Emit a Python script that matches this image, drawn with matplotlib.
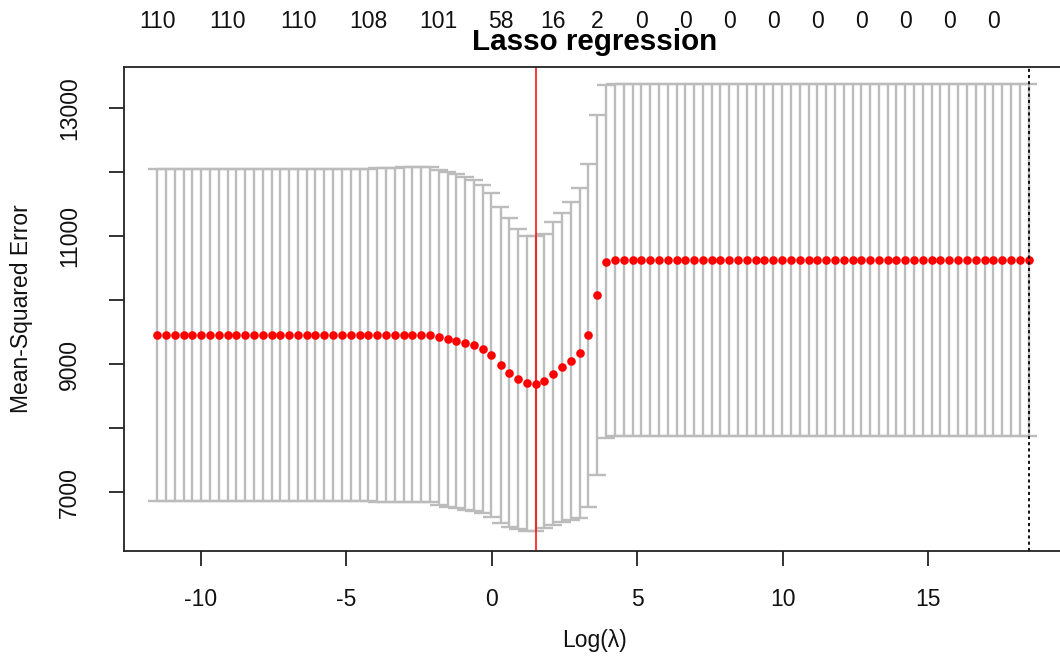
import matplotlib
matplotlib.use("Agg")
import matplotlib.pyplot as plt
import numpy as np

plt.rcParams['font.family'] = ['Liberation Sans', 'DejaVu Sans']

# log(lambda) grid of the cross-validated lasso path (ascending)
log_lambda = [
    -11.50, -11.20, -10.90, -10.59, -10.29, -9.99, -9.69, -9.38, -9.08, -8.78,
    -8.48, -8.17, -7.87, -7.57, -7.27, -6.96, -6.66, -6.36, -6.06, -5.75,
    -5.45, -5.15, -4.85, -4.54, -4.24, -3.94, -3.64, -3.33, -3.03, -2.73,
    -2.43, -2.12, -1.82, -1.52, -1.22, -0.91, -0.61, -0.31, -0.01, 0.30,
    0.60, 0.90, 1.21, 1.51, 1.81, 2.11, 2.42, 2.72, 3.02, 3.32,
    3.63, 3.93, 4.23, 4.53, 4.84, 5.14, 5.44, 5.74, 6.05, 6.35,
    6.65, 6.95, 7.26, 7.56, 7.86, 8.16, 8.47, 8.77, 9.07, 9.37,
    9.68, 9.98, 10.28, 10.58, 10.89, 11.19, 11.49, 11.79, 12.10, 12.40,
    12.70, 13.00, 13.31, 13.61, 13.91, 14.21, 14.52, 14.82, 15.12, 15.42,
    15.73, 16.03, 16.33, 16.63, 16.94, 17.24, 17.54, 17.84, 18.15, 18.45,
]

# mean cross-validated MSE
cvm = [
    9450, 9450, 9450, 9450, 9450, 9450, 9450, 9450, 9450, 9450,
    9450, 9450, 9450, 9450, 9450, 9450, 9450, 9450, 9450, 9450,
    9450, 9450, 9450, 9450, 9450, 9455, 9455, 9455, 9462, 9462,
    9462, 9462, 9418, 9387, 9360, 9324, 9293, 9231, 9142, 8986,
    8866, 8767, 8700, 8695, 8736, 8850, 8950, 9048, 9168, 9449,
    10075, 10600, 10628, 10628, 10628, 10628, 10628, 10628, 10628, 10628,
    10628, 10628, 10628, 10628, 10628, 10628, 10628, 10628, 10628, 10628,
    10628, 10628, 10628, 10628, 10628, 10628, 10628, 10628, 10628, 10628,
    10628, 10628, 10628, 10628, 10628, 10628, 10628, 10628, 10628, 10628,
    10628, 10628, 10628, 10628, 10628, 10628, 10628, 10628, 10628, 10628,
]

# standard error of the cross-validated MSE
cvsd = [
    2593, 2593, 2593, 2593, 2593, 2593, 2593, 2593, 2593, 2593,
    2593, 2593, 2593, 2593, 2593, 2593, 2593, 2593, 2593, 2593,
    2593, 2593, 2593, 2593, 2593, 2600, 2600, 2600, 2615, 2615,
    2615, 2615, 2613, 2613, 2605, 2595, 2577, 2561, 2532, 2470,
    2410, 2340, 2301, 2301, 2287, 2366, 2413, 2483, 2576, 2673,
    2807, 2756, 2750, 2750, 2750, 2750, 2750, 2750, 2750, 2750,
    2750, 2750, 2750, 2750, 2750, 2750, 2750, 2750, 2750, 2750,
    2750, 2750, 2750, 2750, 2750, 2750, 2750, 2750, 2750, 2750,
    2750, 2750, 2750, 2750, 2750, 2750, 2750, 2750, 2750, 2750,
    2750, 2750, 2750, 2750, 2750, 2750, 2750, 2750, 2750, 2750,
]

# number of non-zero coefficients shown along the top axis
top_index = [0, 8, 16, 24, 32, 39, 45, 50, 55, 60, 65, 70, 75, 80, 85, 90, 95]
top_nzero = [110, 110, 110, 108, 101, 58, 16, 2, 0, 0, 0, 0, 0, 0, 0, 0, 0]

idx_min = 43   # lambda.min
idx_1se = 99   # lambda.1se

x_ticks = [-10, -5, 0, 5, 10, 15]
y_ticks = [7000, 8000, 9000, 10000, 11000, 12000, 13000]
y_ticklabels = ['7000', '', '9000', '', '11000', '', '13000']

x = np.array(log_lambda)
m = np.array(cvm)
s = np.array(cvsd)
upper = m + s
lower = m - s

fig = plt.figure(figsize=(10.6, 6.66), dpi=100)
ax = fig.add_axes([0.1173, 0.1734, 0.8865, 0.7267])

bar_col = '#bcbcbc'
cap = 0.01 * (x.max() - x.min())
ax.vlines(x, lower, upper, colors=bar_col, linewidth=1.7, zorder=1)
ax.hlines(upper, x - cap, x + cap, colors=bar_col, linewidth=1.7, zorder=1)
ax.hlines(lower, x - cap, x + cap, colors=bar_col, linewidth=1.7, zorder=1)

ax.plot(x, m, linestyle='none', marker='o', markersize=6.2,
        color='red', markeredgewidth=0, zorder=3)

ax.axvline(x[idx_1se], color='#111111', linewidth=1.4,
           linestyle=(0, (1.6, 1.6)), zorder=4)
ax.axvline(x[idx_min], color='red', linewidth=1.1, zorder=4)

ax.set_xlim(-12.63, 19.67)
ax.set_ylim(6092, 13643)

ax.set_xticks(x_ticks)
ax.set_xticklabels([str(t) for t in x_ticks])
ax.set_yticks(y_ticks)
ax.set_yticklabels(y_ticklabels, rotation=90, va='center')

ax.tick_params(axis='both', direction='out', length=11, width=1.3,
               colors='#222222', labelsize=16.5, labelcolor='#111111')
ax.tick_params(axis='x', pad=16)
ax.tick_params(axis='y', pad=20)

for sp in ax.spines.values():
    sp.set_linewidth(1.3)
    sp.set_color('#222222')
    sp.set_zorder(5)

top = ax.secondary_xaxis('top')
top.set_xticks([log_lambda[i] for i in top_index])
top.set_xticklabels([str(v) for v in top_nzero])
top.tick_params(length=0, pad=24, labelsize=16.5, labelcolor='#111111')
top.spines['top'].set_visible(False)

ax.set_title('Lasso regression', fontsize=21.3, fontweight='bold',
             y=1.035, pad=0)

ax.set_xlabel('Log(λ)', fontsize=16.5, color='#111111')
ax.xaxis.set_label_coords(0.5, -0.163)
ax.set_ylabel('Mean-Squared Error', fontsize=16.5, color='#111111')
ax.yaxis.label.set_verticalalignment('center')
ax.yaxis.set_label_coords(-0.109, 0.5)

fig.savefig('out.png', dpi=100)
